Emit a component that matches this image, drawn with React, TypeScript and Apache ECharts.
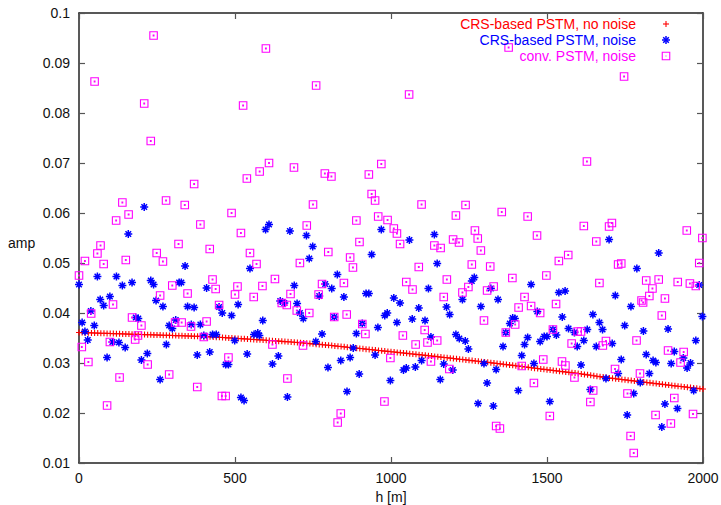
import React, { useEffect, useRef } from "react";
import * as echarts from "echarts";

// ---- data ----
const xTickValues = [0, 500, 1000, 1500, 2000];
const redStepM = 10; // CRS-based PSTM (no noise) sampled every 10 m from h = 0
const redAmp = [
  0.03610, 0.03608, 0.03606, 0.03604, 0.03602, 0.03600, 0.03598, 0.03596, 0.03594, 0.03592,
  0.03590, 0.03588, 0.03586, 0.03584, 0.03582, 0.03580, 0.03578, 0.03576, 0.03574, 0.03572,
  0.03570, 0.03568, 0.03566, 0.03564, 0.03562, 0.03560, 0.03558, 0.03556, 0.03554, 0.03552,
  0.03550, 0.03548, 0.03546, 0.03544, 0.03542, 0.03540, 0.03538, 0.03536, 0.03534, 0.03532,
  0.03530, 0.03527, 0.03523, 0.03520, 0.03516, 0.03513, 0.03509, 0.03506, 0.03502, 0.03499,
  0.03495, 0.03491, 0.03487, 0.03483, 0.03479, 0.03475, 0.03471, 0.03467, 0.03463, 0.03459,
  0.03455, 0.03451, 0.03446, 0.03442, 0.03437, 0.03433, 0.03428, 0.03424, 0.03419, 0.03415,
  0.03410, 0.03405, 0.03399, 0.03394, 0.03388, 0.03383, 0.03377, 0.03372, 0.03366, 0.03361,
  0.03355, 0.03349, 0.03342, 0.03336, 0.03329, 0.03323, 0.03316, 0.03310, 0.03303, 0.03297,
  0.03290, 0.03284, 0.03277, 0.03271, 0.03264, 0.03258, 0.03251, 0.03245, 0.03238, 0.03232,
  0.03225, 0.03219, 0.03212, 0.03206, 0.03199, 0.03193, 0.03186, 0.03180, 0.03173, 0.03167,
  0.03160, 0.03153, 0.03146, 0.03139, 0.03132, 0.03125, 0.03118, 0.03111, 0.03104, 0.03097,
  0.03090, 0.03083, 0.03076, 0.03069, 0.03062, 0.03055, 0.03048, 0.03041, 0.03034, 0.03027,
  0.03020, 0.03013, 0.03005, 0.02998, 0.02990, 0.02983, 0.02975, 0.02968, 0.02960, 0.02953,
  0.02945, 0.02937, 0.02929, 0.02921, 0.02913, 0.02905, 0.02897, 0.02889, 0.02881, 0.02873,
  0.02865, 0.02858, 0.02850, 0.02843, 0.02835, 0.02828, 0.02820, 0.02813, 0.02805, 0.02798,
  0.02790, 0.02781, 0.02772, 0.02763, 0.02754, 0.02745, 0.02736, 0.02727, 0.02718, 0.02709,
  0.02700, 0.02693, 0.02685, 0.02678, 0.02670, 0.02663, 0.02655, 0.02648, 0.02640, 0.02633,
  0.02625, 0.02618, 0.02610, 0.02603, 0.02595, 0.02588, 0.02580, 0.02573, 0.02565, 0.02558,
  0.02550, 0.02543, 0.02536, 0.02529, 0.02522, 0.02515, 0.02508, 0.02501, 0.02494, 0.02487,
  0.02480,
];

// CRS-based PSTM, noise: [h (m), amp]
const blueNoise: [number, number][] = [
  [209, 0.0612], [158, 0.0558], [609, 0.0577], [598, 0.0567], [676, 0.0564], [340, 0.0494],
  [548, 0.0489], [59, 0.0473], [120, 0.0473], [0, 0.0457], [139, 0.0455], [170, 0.0461],
  [230, 0.0465], [239, 0.0457], [321, 0.0461], [328, 0.0461], [409, 0.0450], [68, 0.0427],
  [99, 0.0433], [247, 0.0425], [645, 0.0424], [658, 0.0420],
  [79, 0.0415], [269, 0.0413], [348, 0.0413], [369, 0.0411], [510, 0.0417], [449, 0.0412],
  [459, 0.0400], [489, 0.0395], [589, 0.0385], [182, 0.0391], [190, 0.0389], [10, 0.0381],
  [38, 0.0404], [49, 0.0375], [19, 0.0363], [28, 0.0346], [107, 0.0342], [128, 0.0341],
  [148, 0.0331], [90, 0.0311], [219, 0.0319], [200, 0.0306], [260, 0.0267], [280, 0.0337],
  [289, 0.0375], [299, 0.0369], [310, 0.0386], [360, 0.0377], [389, 0.0377], [400, 0.0355],
  [428, 0.0357], [440, 0.0357], [379, 0.0316], [419, 0.0322], [470, 0.0297], [479, 0.0297],
  [499, 0.0345], [539, 0.0318], [561, 0.0357], [573, 0.0360], [578, 0.0355], [519, 0.0231],
  [529, 0.0225], [620, 0.0298], [639, 0.0314], [668, 0.0232],
  [729, 0.0555], [749, 0.0533], [738, 0.0509], [969, 0.0567], [1059, 0.0546], [1139, 0.0557],
  [938, 0.0517], [1148, 0.0499], [828, 0.0477], [690, 0.0455], [789, 0.0458], [810, 0.0449],
  [770, 0.0434], [849, 0.0432], [920, 0.0439], [929, 0.0439], [1009, 0.0430], [1120, 0.0449],
  [1267, 0.0471], [1259, 0.0464], [1320, 0.0449], [1229, 0.0427], [1343, 0.0427],
  [699, 0.0419], [708, 0.0400], [719, 0.0389], [818, 0.0392], [908, 0.0379], [779, 0.0358],
  [759, 0.0343], [889, 0.0359], [958, 0.0371], [980, 0.0395], [988, 0.0400], [1019, 0.0381],
  [1029, 0.0420], [1089, 0.0410], [1068, 0.0388], [1109, 0.0385], [1178, 0.0412], [1188, 0.0397],
  [1288, 0.0413], [879, 0.0330], [839, 0.0305], [869, 0.0311], [798, 0.0291], [898, 0.0278],
  [859, 0.0243], [949, 0.0316], [998, 0.0265], [1040, 0.0286], [1049, 0.0290], [1078, 0.0292],
  [1098, 0.0305], [1128, 0.0352], [1169, 0.0298], [1158, 0.0267], [1198, 0.0286], [1208, 0.0357],
  [1219, 0.0349], [1238, 0.0344], [1248, 0.0328], [1298, 0.0299], [1337, 0.0287], [1308, 0.0260],
  [1279, 0.0219], [1328, 0.0214],
  [1699, 0.0547], [1858, 0.0520], [1788, 0.0489], [1449, 0.0457], [1538, 0.0441], [1558, 0.0444],
  [1719, 0.0435], [1988, 0.0456],
  [1469, 0.0403], [1390, 0.0390], [1381, 0.0379], [1397, 0.0389], [1368, 0.0361], [1438, 0.0351],
  [1428, 0.0337], [1359, 0.0333], [1478, 0.0343], [1491, 0.0353], [1500, 0.0353], [1530, 0.0356],
  [1519, 0.0367], [1549, 0.0392], [1569, 0.0369], [1588, 0.0361], [1618, 0.0345], [1597, 0.0333],
  [1629, 0.0367], [1647, 0.0397], [1668, 0.0381], [1678, 0.0367], [1658, 0.0333], [1709, 0.0339],
  [1769, 0.0413], [1749, 0.0375], [1809, 0.0364], [1888, 0.0368], [1977, 0.0345], [1998, 0.0393],
  [1419, 0.0315], [1458, 0.0299], [1609, 0.0296], [1408, 0.0245], [1509, 0.0223], [1639, 0.0247],
  [1689, 0.0269], [1728, 0.0279], [1738, 0.0307], [1778, 0.0239], [1799, 0.0261], [1818, 0.0317],
  [1828, 0.0279], [1840, 0.0305], [1849, 0.0301], [1898, 0.0299], [1908, 0.0323], [1937, 0.0310],
  [1949, 0.0290], [1960, 0.0300], [1970, 0.0245], [1757, 0.0196], [1878, 0.0218], [1918, 0.0209],
  [1868, 0.0172],
];

// conv. PSTM, noise: [h (m), amp]
const magentaNoise: [number, number][] = [
  [50, 0.0863], [239, 0.0955], [209, 0.0819], [599, 0.0929], [526, 0.0815], [760, 0.0855],
  [1058, 0.0837], [1747, 0.0873], [1377, 0.0931],
  [230, 0.0744], [609, 0.0700], [579, 0.0683], [538, 0.0669], [369, 0.0658], [139, 0.0621],
  [279, 0.0625], [339, 0.0616], [159, 0.0597], [119, 0.0585], [489, 0.0600], [389, 0.0577],
  [519, 0.0560], [69, 0.0535], [59, 0.0519], [319, 0.0538], [419, 0.0528], [19, 0.0504],
  [79, 0.0498], [150, 0.0506], [249, 0.0520], [269, 0.0503], [548, 0.0520], [569, 0.0498],
  [0, 0.0475], [428, 0.0467], [628, 0.0468], [299, 0.0455], [438, 0.0448], [508, 0.0453],
  [588, 0.0454], [260, 0.0435], [348, 0.0439], [500, 0.0437], [560, 0.0432],
  [109, 0.0417], [39, 0.0399], [170, 0.0391], [200, 0.0375], [329, 0.0381], [308, 0.0381],
  [359, 0.0373], [409, 0.0383], [449, 0.0416], [9, 0.0332], [99, 0.0342], [180, 0.0347],
  [189, 0.0355], [400, 0.0352], [30, 0.0302], [220, 0.0297], [130, 0.0271], [289, 0.0277],
  [379, 0.0252], [90, 0.0215], [479, 0.0311], [458, 0.0234], [470, 0.0234], [620, 0.0337],
  [668, 0.0269], [650, 0.0420], [666, 0.0416],
  [689, 0.0691], [969, 0.0698], [788, 0.0679], [809, 0.0673], [929, 0.0677], [938, 0.0638],
  [949, 0.0625], [750, 0.0617], [1098, 0.0617], [1239, 0.0616], [1355, 0.0602], [1208, 0.0595],
  [959, 0.0593], [989, 0.0586], [889, 0.0585], [730, 0.0575], [1009, 0.0569], [1019, 0.0559],
  [1269, 0.0565], [1278, 0.0549], [1199, 0.0547], [1218, 0.0541], [899, 0.0542], [1029, 0.0538],
  [1139, 0.0535], [1159, 0.0530], [1288, 0.0525], [799, 0.0522], [708, 0.0500], [869, 0.0511],
  [878, 0.0491], [1089, 0.0492], [1259, 0.0497], [1318, 0.0493], [1179, 0.0467], [1049, 0.0462],
  [1069, 0.0447], [779, 0.0458], [849, 0.0460], [678, 0.0438], [768, 0.0437], [1248, 0.0452],
  [1329, 0.0453], [1308, 0.0445], [1229, 0.0441], [1169, 0.0432],
  [698, 0.0405], [738, 0.0400], [858, 0.0397], [818, 0.0392], [908, 0.0378], [918, 0.0358],
  [718, 0.0335], [1038, 0.0355], [1108, 0.0366], [1079, 0.0337], [1117, 0.0341], [1148, 0.0345],
  [998, 0.0310], [1128, 0.0303], [1187, 0.0288], [1298, 0.0385], [979, 0.0223], [839, 0.0199],
  [829, 0.0181], [1337, 0.0174],
  [1628, 0.0703], [1438, 0.0593], [1468, 0.0555], [1618, 0.0574], [1699, 0.0573], [1708, 0.0580],
  [1948, 0.0565], [1998, 0.0550], [1658, 0.0543], [1538, 0.0504], [1568, 0.0516], [1728, 0.0497],
  [1738, 0.0499], [1988, 0.0500], [1389, 0.0470], [1498, 0.0475], [1428, 0.0432], [1668, 0.0460],
  [1818, 0.0465], [1858, 0.0467], [1838, 0.0449], [1919, 0.0462], [1958, 0.0459], [1977, 0.0454],
  [1828, 0.0434], [1878, 0.0429], [1803, 0.0425],
  [1409, 0.0411], [1449, 0.0414], [1529, 0.0418], [1478, 0.0400], [1398, 0.0377], [1368, 0.0361],
  [1519, 0.0367], [1579, 0.0339], [1598, 0.0363], [1609, 0.0363], [1679, 0.0335], [1689, 0.0344],
  [1787, 0.0345], [1808, 0.0421], [1868, 0.0395], [1888, 0.0325], [1938, 0.0322], [1928, 0.0301],
  [1419, 0.0294], [1488, 0.0307], [1548, 0.0303], [1559, 0.0295], [1588, 0.0271], [1458, 0.0260],
  [1718, 0.0288], [1798, 0.0279], [1758, 0.0239], [1648, 0.0245], [1639, 0.0222], [1509, 0.0194],
  [1908, 0.0230], [1848, 0.0196], [1897, 0.0179], [1968, 0.0198], [1768, 0.0154], [1778, 0.0120],
  [1349, 0.0169],
];

const seriesNames = ["CRS-based PSTM, no noise", "CRS-based PSTM, noise", "conv. PSTM, noise"];
const seriesColors = ["#ff0000", "#0000ff", "#ff00ff"];

const FONT = "'Liberation Sans', Arial, Helvetica, sans-serif";

const plusSym = "path://M0,5H10M5,0V10";
const starSym = "path://M0,5H10M5,0V10M1.5,1.5L8.5,8.5M1.5,8.5L8.5,1.5";
const squareSym = "path://M0,0H10V10H0ZM4.5,4.5H5.5V5.5H4.5Z";

export default function App() {
  const ref = useRef<HTMLDivElement>(null);

  useEffect(() => {
    document.body.style.margin = "0";
    const chart = echarts.init(ref.current!, undefined, { renderer: "svg" });

    const gl = 79, gt = 13, gw = 624, gh = 450;
    const axisLineStyle = { color: "#222", width: 1.5 };
    const tick = { show: true, inside: true, length: 6, lineStyle: { color: "#555", width: 1.2 } };
    const labelStyle = { fontSize: 14, color: "#111", fontFamily: FONT };

    const legendX = 636, iconX = 666, legendY = [24, 40, 56];

    const option: any = {
      animation: false,
      grid: { left: gl, top: gt, width: gw, height: gh, containLabel: false, outerBoundsMode: "none" },
      xAxis: [
        {
          type: "value", min: xTickValues[0], max: xTickValues[xTickValues.length - 1], interval: 500,
          position: "bottom",
          name: "h [m]", nameLocation: "middle", nameGap: 27,
          nameTextStyle: { fontSize: 14, color: "#111", fontFamily: FONT },
          axisLine: { show: true, onZero: false, lineStyle: axisLineStyle },
          axisTick: tick,
          axisLabel: { ...labelStyle, margin: 8, formatter: (v: number) => String(v) },
          splitLine: { show: false },
        },
        {
          type: "value", min: 0, max: 2000, interval: 500, position: "top",
          axisLine: { show: true, onZero: false, lineStyle: axisLineStyle },
          axisTick: tick, axisLabel: { show: false }, splitLine: { show: false },
        },
      ],
      yAxis: [
        {
          type: "value", min: 0.01, max: 0.1, interval: 0.01, position: "left",
          axisLine: { show: true, onZero: false, lineStyle: axisLineStyle },
          axisTick: tick,
          axisLabel: { ...labelStyle, margin: 9, formatter: (v: number) => String(+v.toFixed(2)) },
          splitLine: { show: false },
        },
        {
          type: "value", min: 0.01, max: 0.1, interval: 0.01, position: "right",
          axisLine: { show: true, onZero: false, lineStyle: axisLineStyle },
          axisTick: tick, axisLabel: { show: false }, splitLine: { show: false },
        },
      ],
      series: [
        {
          name: seriesNames[0], type: "scatter", silent: true,
          symbol: plusSym, symbolSize: 6,
          itemStyle: { color: "transparent", borderColor: seriesColors[0], borderWidth: 1.1, opacity: 1 },
          data: redAmp.map((v, i) => [i * redStepM, v]),
          z: 2,
        },
        {
          name: seriesNames[1], type: "scatter", silent: true,
          symbol: starSym, symbolSize: 8,
          itemStyle: { color: "transparent", borderColor: seriesColors[1], borderWidth: 1.5, opacity: 1 },
          data: blueNoise,
          z: 3,
        },
        {
          name: seriesNames[2], type: "scatter", silent: true,
          symbol: squareSym, symbolSize: 7.5,
          itemStyle: { color: "transparent", borderColor: seriesColors[2], borderWidth: 1.1, opacity: 1 },
          data: magentaNoise,
          z: 4,
        },
      ],
      graphic: [
        {
          type: "text", left: 8, top: 236,
          style: { text: "amp", fontSize: 14, fill: "#111", fontFamily: FONT },
        },
        ...seriesNames.map((n, i) => ({
          type: "text", x: legendX, y: legendY[i],
          style: {
            text: n, fontSize: 14, lineHeight: 14, fill: seriesColors[i], fontFamily: FONT,
            align: "right", verticalAlign: "middle",
          },
          z: 10,
        })),
        // legend sample: plus
        { type: "line", shape: { x1: iconX - 3, y1: legendY[0], x2: iconX + 3, y2: legendY[0] }, style: { stroke: seriesColors[0], lineWidth: 1.1 }, z: 10 },
        { type: "line", shape: { x1: iconX, y1: legendY[0] - 3, x2: iconX, y2: legendY[0] + 3 }, style: { stroke: seriesColors[0], lineWidth: 1.1 }, z: 10 },
        // legend sample: asterisk
        { type: "line", shape: { x1: iconX - 4, y1: legendY[1], x2: iconX + 4, y2: legendY[1] }, style: { stroke: seriesColors[1], lineWidth: 1.5 }, z: 10 },
        { type: "line", shape: { x1: iconX, y1: legendY[1] - 4, x2: iconX, y2: legendY[1] + 4 }, style: { stroke: seriesColors[1], lineWidth: 1.5 }, z: 10 },
        { type: "line", shape: { x1: iconX - 2.8, y1: legendY[1] - 2.8, x2: iconX + 2.8, y2: legendY[1] + 2.8 }, style: { stroke: seriesColors[1], lineWidth: 1.5 }, z: 10 },
        { type: "line", shape: { x1: iconX - 2.8, y1: legendY[1] + 2.8, x2: iconX + 2.8, y2: legendY[1] - 2.8 }, style: { stroke: seriesColors[1], lineWidth: 1.5 }, z: 10 },
        // legend sample: square with dot
        { type: "rect", shape: { x: iconX - 3.75, y: legendY[2] - 3.75, width: 7.5, height: 7.5 }, style: { fill: "transparent", stroke: seriesColors[2], lineWidth: 1.1 }, z: 10 },
        { type: "rect", shape: { x: iconX - 0.5, y: legendY[2] - 0.5, width: 1, height: 1 }, style: { fill: seriesColors[2] }, z: 10 },
      ],
    };

    chart.setOption(option);
    return () => chart.dispose();
  }, []);

  return (
    <div
      ref={ref}
      style={{ position: "absolute", left: 0, top: 0, width: 721, height: 505, background: "#fff" }}
    />
  );
}
